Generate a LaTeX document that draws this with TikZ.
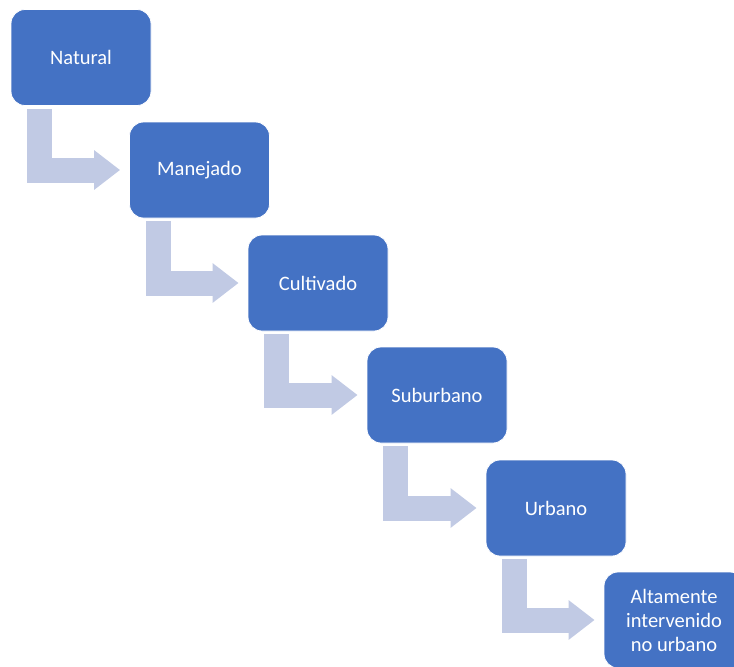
\documentclass[tikz,border=0pt]{standalone}
\usepackage{fontspec}
\setmainfont{Carlito}
\usetikzlibrary{arrows.meta}
\definecolor{BoxBlue}{RGB}{68, 114, 196}
\definecolor{PaleBlue}{RGB}{193, 202, 228}

\begin{document}
\begin{tikzpicture}[
                x=1pt, y=-1pt,
                stage/.style={draw=white, line width=0.8pt, fill=BoxBlue, minimum width=140pt, minimum height=96pt, rounded corners=14pt, text=white, font=\fontsize{20.5}{24}\selectfont, align=center, inner sep=2pt},
                flow/.style={-{Triangle[width=38pt, length=26pt]}, line width=25pt, line join=miter, PaleBlue}
            ]
                \clip (0, 0) rectangle (734, 667);
                \useasboundingbox (0, 0) rectangle (734, 667);

                % Stages (staircase)
                \node[stage] (natural) at (81, 57.5) {Natural};
                \node[stage] (manejado) at (199.5, 170) {Manejado};
                \node[stage] (cultivado) at (318, 283) {Cultivado};
                \node[stage] (suburbano) at (437, 395) {Suburbano};
                \node[stage] (urbano) at (556, 508) {Urbano};
                \node[stage] (altamente) at (674, 620) {Altamente\\intervenido\\no urbano};

                % Bent arrows between stages
                \draw[flow] ([xshift=29pt, yshift=-3pt]natural.south west) |- ([xshift=-9pt]manejado.west);
                \draw[flow] ([xshift=29pt, yshift=-3pt]manejado.south west) |- ([xshift=-9pt]cultivado.west);
                \draw[flow] ([xshift=29pt, yshift=-3pt]cultivado.south west) |- ([xshift=-9pt]suburbano.west);
                \draw[flow] ([xshift=29pt, yshift=-3pt]suburbano.south west) |- ([xshift=-9pt]urbano.west);
                \draw[flow] ([xshift=29pt, yshift=-3pt]urbano.south west) |- ([xshift=-9pt]altamente.west);
            \end{tikzpicture}
\end{document}
